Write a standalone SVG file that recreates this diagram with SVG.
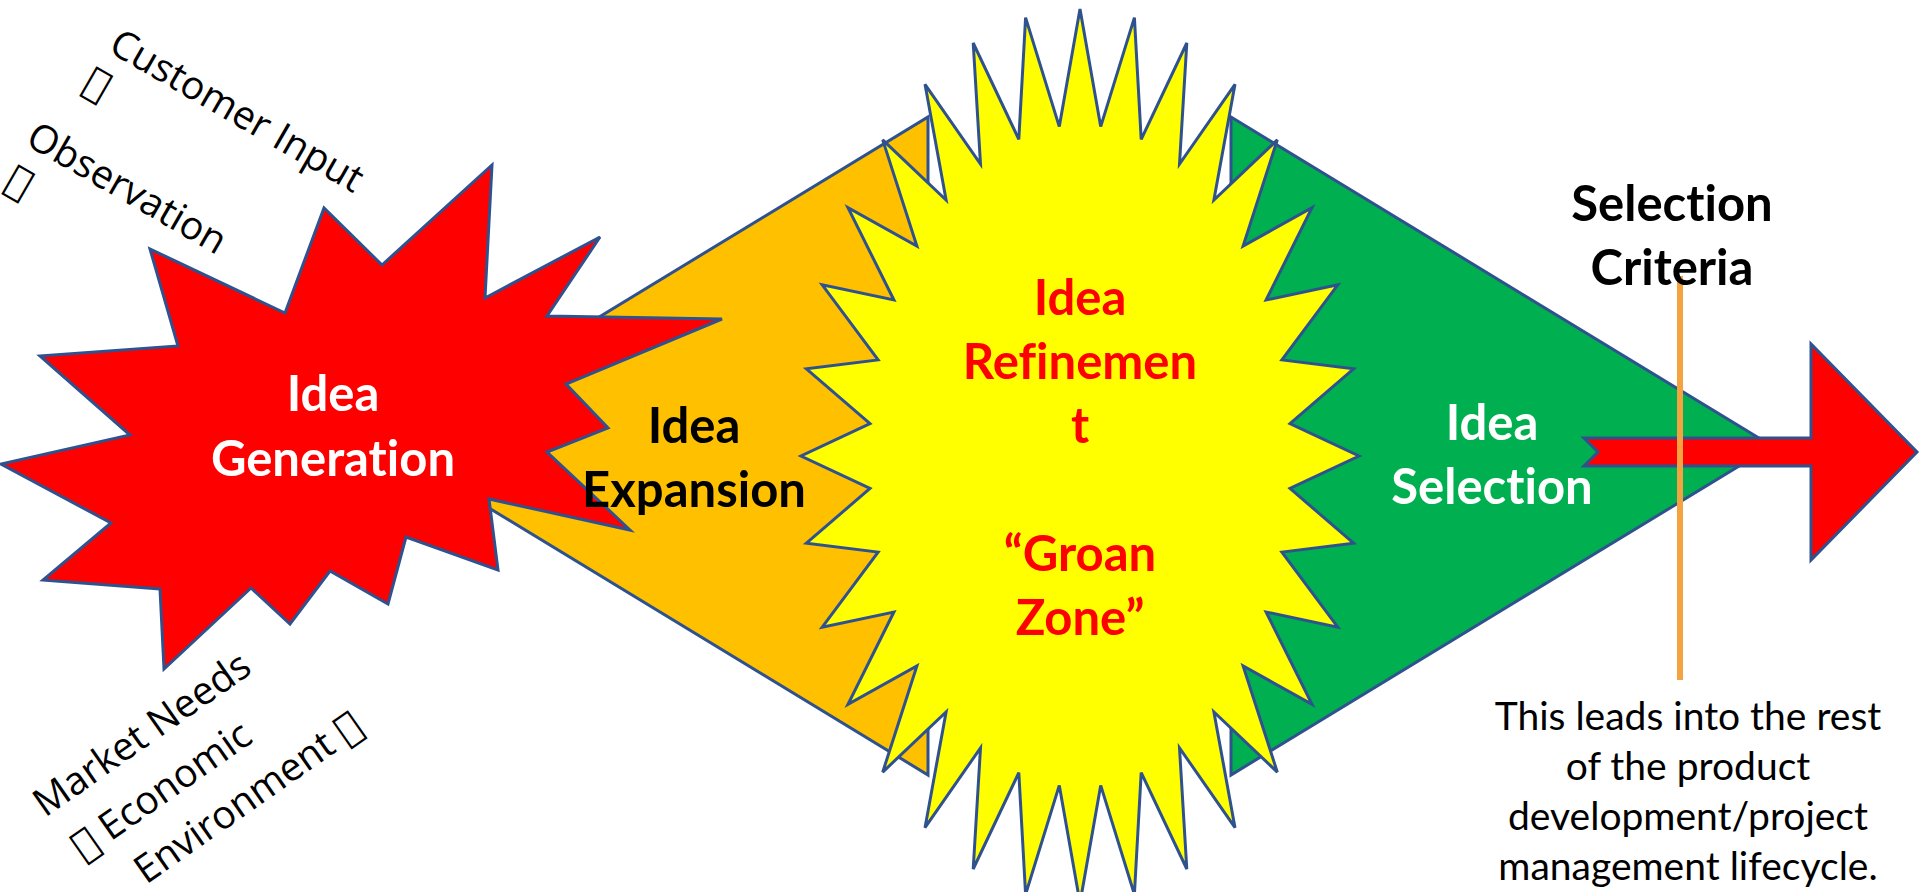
<svg xmlns="http://www.w3.org/2000/svg" width="1920" height="892" viewBox="0 0 1920 892">
<style>
.shape{stroke:#2F528F;stroke-width:3;stroke-linejoin:miter}
text{font-variant-ligatures:none;font-feature-settings:"liga" 0,"clig" 0,"dlig" 0}
.b{font-family:Lato,"Liberation Sans",sans-serif;font-weight:700;font-size:49px;text-anchor:middle}
.w{fill:#FFFFFF}.k{fill:#000000}.r{fill:#FF0000}
.note{font-family:Lato,"Liberation Sans",sans-serif;font-size:39px;text-anchor:middle;fill:#000}
.rot{font-family:"Open Sans","Noto Sans",sans-serif;font-size:39px;fill:#000}
.tofu{font-family:"DejaVu Sans",sans-serif}
</style>
<rect width="1920" height="892" fill="#FFFFFF"/>

<g id="node-idea-expansion">
<polygon class="shape" fill="#FFC000" points="387,446 928,117 928,775"/>
</g>
<g id="node-idea-selection">
<polygon class="shape" fill="#00B050" points="1231,117 1772,446 1231,775"/>
</g>
<g id="node-idea-generation">
<polygon class="shape" fill="#FF0000" points="722,319 566,384 608,428 547,452 630,530 489,499 498,570 406,537 388,604 330,571 290,624 251,588 164,669 160,589 43,580 111,523 1,464 130,435 40,356 178,346 150,249 285,313 324,208 382,265 492,165 485,298 600,237 547,316"/>
</g>
<g id="node-idea-refinement">
<polygon class="shape" fill="#FFFF00" points="1080,9 1100.7,126.6 1134.4,17.6 1141.2,139.3 1186.8,43 1179.5,164.1 1235,84.3 1213.9,200.1 1277.3,139.9 1243.1,246 1312,207.7 1266.1,300 1337.8,284.9 1281.9,359.9 1353.6,368.8 1290,423.6 1359,456 1290,488.4 1353.6,543.2 1281.9,552.1 1337.8,627.1 1266.1,612 1312,704.3 1243.1,666 1277.3,772.1 1213.9,711.9 1235,827.7 1179.5,747.9 1186.8,869 1141.2,772.7 1134.4,894.4 1100.7,785.4 1080,903 1059.3,785.4 1025.6,894.4 1018.8,772.7 973.2,869 980.5,747.9 925,827.7 946.1,711.9 882.7,772.1 916.9,666 848,704.3 893.9,612 822.2,627.1 878.1,552.1 806.4,543.2 870,488.4 801,456 870,423.6 806.4,368.8 878.1,359.9 822.2,284.9 893.9,300 848,207.7 916.9,246 882.7,139.9 946.1,200.1 925,84.3 980.5,164.1 973.2,43 1018.8,139.3 1025.6,17.6 1059.3,126.6"/>
</g>

<g id="connectors">
<polygon id="arrow-next" class="shape" fill="#FF0000" points="1584,438 1811,438 1811,344 1917,452 1811,560 1811,466 1584,466 1598,452"/>
<line id="selection-line" x1="1680" y1="276" x2="1680" y2="680" stroke="#F5A340" stroke-width="6"/>
</g>

<g id="label-generation" class="b w">
<text x="333" y="411">Idea</text>
<text x="333" y="476">Generation</text>
</g>
<g id="label-expansion" class="b k">
<text x="694" y="443">Idea</text>
<text x="694" y="507">Expansion</text>
</g>
<g id="label-refinement" class="b r">
<text x="1080" y="315">Idea</text>
<text x="1080" y="379">Refinemen</text>
<text x="1080" y="443">t</text>
<text x="1080" y="571">“Groan</text>
<text x="1080" y="635">Zone”</text>
</g>
<g id="label-selection" class="b w">
<text x="1492" y="440">Idea</text>
<text x="1492" y="504">Selection</text>
</g>
<g id="selection-criteria" class="b k">
<text x="1672" y="221">Selection</text>
<text x="1672" y="285">Criteria</text>
</g>
<g id="note">
<text class="note" x="1688" y="730">This leads into the rest</text>
<text class="note" x="1688" y="780">of the product</text>
<text class="note" x="1688" y="830">development/project</text>
<text class="note" x="1688" y="880">management lifecycle.</text>
</g>
<g id="inputs-top" class="rot">
<text transform="translate(107,51) rotate(30)">Customer Input</text>
<text transform="translate(81,89) rotate(30)"><tspan class="tofu">&#xF0E0;</tspan></text>
<text transform="translate(24,144) rotate(30)">Observation</text>
<text transform="translate(3,187) rotate(30)"><tspan class="tofu">&#xF0E0;</tspan></text>
</g>
<g id="inputs-bottom" class="rot">
<text transform="translate(45,818) rotate(-35)">Market Needs</text>
<text transform="translate(83,861) rotate(-35)"><tspan class="tofu">&#xF0E0;</tspan> Economic</text>
<text transform="translate(146,885) rotate(-35)">Environment <tspan class="tofu">&#xF0E0;</tspan></text>
</g>
</svg>
